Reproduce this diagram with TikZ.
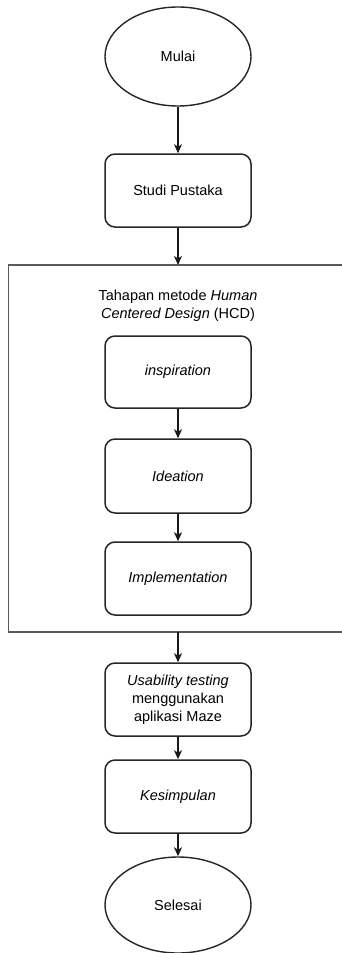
\documentclass[tikz,border=0pt]{standalone}
\usepackage{fontspec}
\setmainfont{Liberation Sans}
\usetikzlibrary{shapes.geometric,arrows.meta}
\begin{document}
\begin{tikzpicture}[x=1pt,y=-1pt,
  every node/.style={font=\fontsize{14.5}{18}\selectfont, text=black},
  stepbox/.style={draw=black!85, line width=1.5pt, rounded corners=10pt, minimum width=146pt, align=center, inner sep=2pt},
  term/.style={draw=black!85, line width=1.4pt, ellipse, minimum width=146pt, inner sep=0pt},
  conn/.style={draw=black!90, line width=1.5pt, -{Stealth[length=9pt,width=8pt,inset=2.5pt]}},
  frame/.style={draw=black!65, line width=1.7pt}]
\useasboundingbox (0,0) rectangle (342,953);
\node[term, minimum height=99pt] (mulai) at (178,56.5) {Mulai};
\node[stepbox, minimum height=73pt] (studi) at (178,190.5) {Studi Pustaka};
\coordinate (hcdtop) at (178,265);
\coordinate (hcdbot) at (178,632);
\draw[frame] (342,265) -- (8.5,265) -- (8.5,632) -- (342,632);
\node[align=center] (title) at (178,306) {Tahapan metode \textit{Human}\\\textit{Centered Design} (HCD)};
\node[stepbox, minimum height=72pt] (insp) at (178,372) {\textit{inspiration}};
\node[stepbox, minimum height=74pt] (idea) at (178,476) {\textit{Ideation}};
\node[stepbox, minimum height=73pt] (impl) at (178,578.5) {\textit{Implementation}};
\node[stepbox, minimum height=73pt] (usab) at (178,699.5) {\textit{Usability testing}\\menggunakan\\aplikasi Maze};
\node[stepbox, minimum height=73pt] (kes) at (178,796.5) {\textit{Kesimpulan}};
\node[term, minimum height=96pt] (selesai) at (178,905) {Selesai};
\draw[conn] (mulai) -- (studi);
\draw[conn] (studi) -- (hcdtop);
\draw[conn] (insp) -- (idea);
\draw[conn] (idea) -- (impl);
\draw[conn] (hcdbot) -- (usab);
\draw[conn] (usab) -- (kes);
\draw[conn] (kes) -- (selesai);
\end{tikzpicture}
\end{document}
